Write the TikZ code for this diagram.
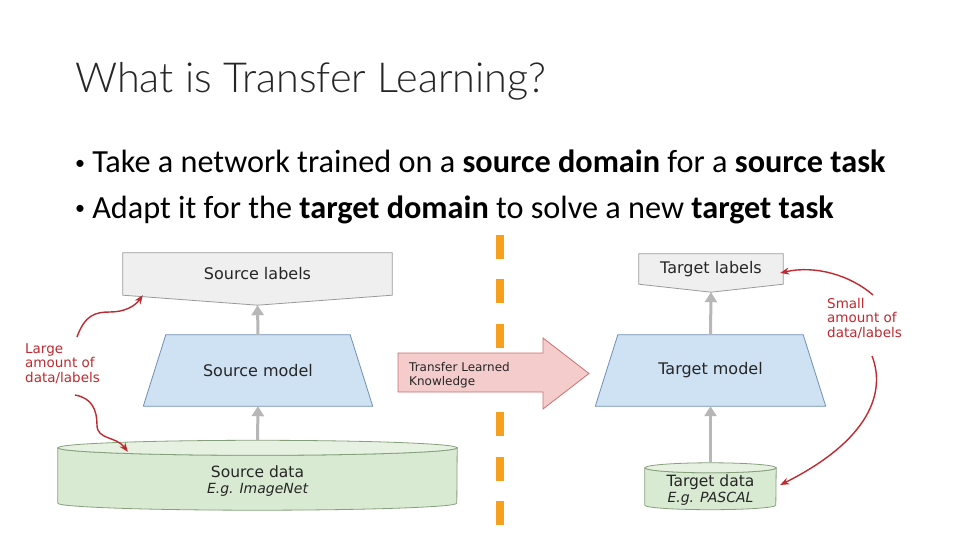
\documentclass[tikz,border=0pt]{standalone}
\usepackage{fontspec}
\setmainfont{Carlito}
\newfontfamily\titlefont{Lato Light}
\newfontfamily\diagfont{DejaVu Sans}
\usetikzlibrary{calc,arrows.meta,backgrounds}

\definecolor{lblfill}{HTML}{EFEFEF}
\definecolor{lbldraw}{HTML}{9A9A9A}
\definecolor{modelfill}{HTML}{CFE2F3}
\definecolor{modeldraw}{HTML}{6F8FB5}
\definecolor{datafill}{HTML}{D9EAD3}
\definecolor{datatop}{HTML}{E6F1E1}
\definecolor{datadraw}{HTML}{86A07C}
\definecolor{xferfill}{HTML}{F4CCCC}
\definecolor{xferdraw}{HTML}{CC6F6F}
\definecolor{annot}{HTML}{BE2A30}
\definecolor{divider}{HTML}{F6A01E}
\definecolor{flow}{HTML}{B7B7B7}
\definecolor{ink}{HTML}{262626}

\newcommand{\bul}{\raisebox{3.5pt}{\fontsize{20}{24}\selectfont•}\hspace{0.22em}}

\begin{document}
\begin{tikzpicture}[x=1pt,y=-1pt,
    every node/.style={inner sep=0pt},
    box/.style={font=\diagfont\fontsize{16}{18}\selectfont,text=ink},
    datatext/.style={font=\diagfont\fontsize{15.5}{16.5}\selectfont,align=center,text=ink},
    xfertext/.style={font=\diagfont\fontsize{12}{13.5}\selectfont,align=left,text=ink,anchor=west},
    annottext/.style={font=\diagfont\fontsize{13.5}{14.5}\selectfont,align=left,text=annot,anchor=north west},
    lblshape/.style={fill=lblfill,draw=lbldraw,line width=0.8pt},
    modelshape/.style={fill=modelfill,draw=modeldraw,line width=0.8pt},
    cylbody/.style={fill=datafill,draw=datadraw,line width=0.8pt},
    cyltop/.style={fill=datatop,draw=datadraw,line width=0.8pt},
    flowarrow/.style={flow,line width=3pt,-{Triangle[width=12pt,length=10pt]}},
    annotarrow/.style={annot,line width=1.4pt,-{Stealth[length=9pt,width=7pt]}}]
  \node[anchor=base west,font=\titlefont\fontsize{41.4}{50}\selectfont,text=ink] (title) at (75,93) {What is Transfer Learning?};
  \node[anchor=base west,font=\fontsize{32.25}{38}\selectfont] (point1) at (75,173) {\bul Take a network trained on a \textbf{source domain} for a \textbf{source task}};
  \node[anchor=base west,font=\fontsize{32.25}{38}\selectfont] (point2) at (75,218) {\bul Adapt it for the \textbf{target domain} to solve a new \textbf{target task}};

  \node[box,minimum width=269,minimum height=42] (slabels) at (257.5,274) {Source labels};
  \coordinate (slabels tip) at ($(slabels.south)+(0,10)$);
  \node[box,minimum width=184,minimum height=71] (smodel) at (258,370.5) {Source model};
  \node[minimum width=399,minimum height=55] (sdata) at (257.5,475.5) {};
  \node[datatext] (sdata text) at ([yshift=-5.5pt]sdata.center) {Source data\\{\fontsize{14}{16}\selectfont\itshape E.g. ImageNet}};

  \node[box,minimum width=144,minimum height=30] (tlabels) at (711,269) {Target labels};
  \coordinate (tlabels tip) at ($(tlabels.south)+(0,8)$);
  \node[box,minimum width=185,minimum height=71] (tmodel) at (710.5,370.5) {Target model};
  \node[minimum width=131,minimum height=37] (tdata) at (710.5,486.5) {};
  \node[datatext] (tdata text) at ([yshift=-3.5pt]tdata.center) {Target data\\{\fontsize{14}{16}\selectfont\itshape E.g. PASCAL}};

  \node[xfertext] (xfer) at (409,375) {Transfer Learned\\Knowledge};
  \node[annottext] (large) at (25,343) {Large\\amount of\\data/labels};
  \node[annottext] (small) at (827,298) {Small\\amount of\\data/labels};

  \draw[flowarrow] ([yshift=7.5pt]sdata.north) -- (smodel.south);
  \draw[flowarrow] (smodel.north) -- (slabels tip);
  \draw[flowarrow] ([yshift=5pt]tdata.north) -- (tmodel.south);
  \draw[flowarrow] (tmodel.north) -- (tlabels tip);

  \draw[annotarrow] (77,337) .. controls (85,315) and (95,312) .. (110,312) .. controls (125,312) and (135,306) .. ($(slabels.south west)+(20,0)$);
  \draw[annotarrow] (75,395) .. controls (92,398) and (97,410) .. (97,425) .. controls (97,440) and (116,436) .. ($(sdata.north west)+(70,4)$);
  \draw[annotarrow] (873,295) .. controls (850,275) and (815,265) .. ($(tlabels.east)+(-3,4)$);
  \draw[annotarrow] (872,356) .. controls (886,392) and (870,440) .. ($(tdata.east)+(4,-1.5)$);

  \begin{pgfonlayer}{background}
    \fill[white] (0,0) rectangle (960,540);
    \draw[divider,line width=8pt,dash pattern=on 24pt off 20.3pt] (500,235) -- (500,525);
    \draw[lblshape] (slabels.north west) -- (slabels.north east) -- (slabels.south east) -- (slabels tip) -- (slabels.south west) -- cycle;
    \draw[lblshape] (tlabels.north west) -- (tlabels.north east) -- (tlabels.south east) -- (tlabels tip) -- (tlabels.south west) -- cycle;
    \draw[modelshape] (smodel.north west) -- (smodel.north east) -- ($(smodel.south east)+(22.5,0)$) -- ($(smodel.south west)+(-22.5,0)$) -- cycle;
    \draw[modelshape] (tmodel.north west) -- (tmodel.north east) -- ($(tmodel.south east)+(22.5,0)$) -- ($(tmodel.south west)+(-22.5,0)$) -- cycle;
    \draw[cylbody] (sdata.north west) -- (sdata.south west) arc[start angle=180,end angle=360,x radius=199.5pt,y radius=7pt] -- (sdata.north east) arc[start angle=360,end angle=180,x radius=199.5pt,y radius=7.5pt] -- cycle;
    \draw[cyltop] (sdata.north) ellipse[x radius=199.5pt,y radius=7.5pt];
    \draw[cylbody] (tdata.north west) -- (tdata.south west) arc[start angle=180,end angle=360,x radius=65.5pt,y radius=4.5pt] -- (tdata.north east) arc[start angle=360,end angle=180,x radius=65.5pt,y radius=5pt] -- cycle;
    \draw[cyltop] (tdata.north) ellipse[x radius=65.5pt,y radius=5pt];
    \draw[fill=xferfill,draw=xferdraw,line width=0.8pt] (398,353) -- (543,353) -- (543,338) -- (589,373.5) -- (543,409) -- (543,392) -- (398,392) -- cycle;
  \end{pgfonlayer}
\end{tikzpicture}
\end{document}
